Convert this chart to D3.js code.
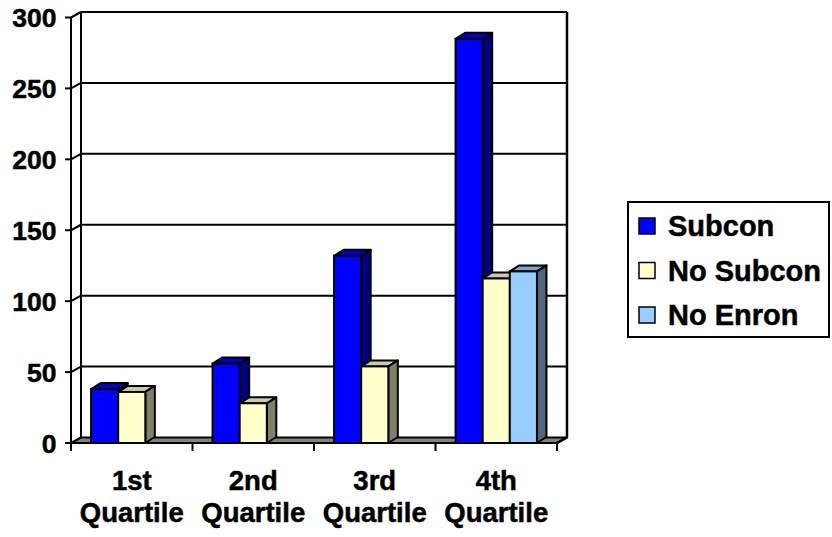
<!DOCTYPE html>
<html>
<head>
<meta charset="utf-8">
<script src="https://cdn.jsdelivr.net/npm/d3@7/dist/d3.min.js"></script>
<style>
  html, body { margin: 0; padding: 0; background: #fff; }
  svg { display: block; }
  text { font-family: "Liberation Sans", Arial, sans-serif; font-weight: bold; fill: #000;
         stroke: #000; stroke-width: 0.5px; }
</style>
</head>
<body>
<svg id="chart" width="832" height="537"></svg>
<script>
// Quartile counts per group
const categories = ["1st Quartile", "2nd Quartile", "3rd Quartile", "4th Quartile"];
const seriesNames = ["Subcon", "No Subcon", "No Enron"];
const subcon   = [38, 56, 132, 285];
const noSubcon = [36, 28, 54, 116];
const noEnron  = [0, 0, 0, 121];
const yTicks = [0, 50, 100, 150, 200, 250, 300];

// front / top / side shades of each series
const palette = [
  { front: "#0000ff", top: "#0000c8", side: "#000080" },
  { front: "#ffffcc", top: "#cccca3", side: "#808066" },
  { front: "#99ccff", top: "#7aa3cc", side: "#4d6680" }
];

const seriesValues = [subcon, noSubcon, noEnron];

const svg = d3.select("#chart");
const plotLeft = 71, plotRight = 557, plotBottom = 443, plotTop = 17.5;
const wallDX = 10, wallDY = -5.5;   // oblique offset of the back wall
const barDX = 9.5, barDY = -6;      // oblique depth of each column

const y = d3.scaleLinear().domain([0, 300]).range([plotBottom, plotTop]);
const x0 = d3.scaleBand().domain(categories).range([plotLeft, plotRight]).padding(0);
const x1 = d3.scaleBand().domain(seriesNames)
  .range([x0.bandwidth() * 0.165, x0.bandwidth() * 0.835]).padding(0);

const stroke = "#000";

// back wall: gridlines and frame
const back = svg.append("g");
yTicks.slice(1).forEach(t => {
  back.append("line")
    .attr("x1", plotLeft + wallDX).attr("x2", plotRight + wallDX)
    .attr("y1", y(t) + wallDY).attr("y2", y(t) + wallDY)
    .attr("stroke", stroke).attr("stroke-width", 2);
  // slanted segment across the side wall
  back.append("line")
    .attr("x1", plotLeft).attr("x2", plotLeft + wallDX)
    .attr("y1", y(t)).attr("y2", y(t) + wallDY)
    .attr("stroke", stroke).attr("stroke-width", 2);
});
back.append("line")
  .attr("x1", plotLeft + wallDX).attr("x2", plotLeft + wallDX)
  .attr("y1", y(300) + wallDY).attr("y2", y(0) + wallDY)
  .attr("stroke", stroke).attr("stroke-width", 2);
back.append("line")
  .attr("x1", plotRight + wallDX).attr("x2", plotRight + wallDX)
  .attr("y1", y(300) + wallDY).attr("y2", y(0) + wallDY)
  .attr("stroke", stroke).attr("stroke-width", 2.5);

// floor
svg.append("path")
  .attr("d", d3.line()([
    [plotLeft, y(0)], [plotRight, y(0)],
    [plotRight + wallDX, y(0) + wallDY], [plotLeft + wallDX, y(0) + wallDY]
  ]) + "Z")
  .attr("fill", "#808080").attr("stroke", stroke).attr("stroke-width", 2)
  .attr("stroke-linejoin", "round");

// columns
const bars = svg.append("g");
const poly = pts => d3.line()(pts) + "Z";
categories.forEach((cat, ci) => {
  seriesNames.forEach((name, si) => {
    const v = seriesValues[si][ci];
    if (!v) return;
    const xl = x0(cat) + x1(name);
    const xr = xl + x1.bandwidth();
    const yt = y(v), yb = y(0);
    const col = palette[si];
    bars.append("path")
      .attr("d", poly([[xl, yt], [xr, yt], [xr + barDX, yt + barDY], [xl + barDX, yt + barDY]]))
      .attr("fill", col.top).attr("stroke", stroke).attr("stroke-width", 2).attr("stroke-linejoin", "round");
    bars.append("path")
      .attr("d", poly([[xr, yt], [xr + barDX, yt + barDY], [xr + barDX, yb + barDY], [xr, yb]]))
      .attr("fill", col.side).attr("stroke", stroke).attr("stroke-width", 2).attr("stroke-linejoin", "round");
    bars.append("rect")
      .attr("x", xl).attr("y", yt).attr("width", xr - xl).attr("height", yb - yt)
      .attr("fill", col.front).attr("stroke", stroke).attr("stroke-width", 2);
  });
});

// value axis
const yAxis = svg.append("g");
yAxis.append("line")
  .attr("x1", plotLeft).attr("x2", plotLeft).attr("y1", y(300)).attr("y2", y(0))
  .attr("stroke", stroke).attr("stroke-width", 2);
yTicks.forEach(t => {
  yAxis.append("line")
    .attr("x1", plotLeft - 6).attr("x2", plotLeft).attr("y1", y(t)).attr("y2", y(t))
    .attr("stroke", stroke).attr("stroke-width", 2);
  yAxis.append("text")
    .attr("x", 56.5).attr("y", y(t)).attr("dy", "0.36em")
    .attr("text-anchor", "end").attr("font-size", 26.5)
    .text(t);
});

// category axis
const xAxis = svg.append("g");
xAxis.append("line")
  .attr("x1", plotLeft).attr("x2", plotRight).attr("y1", y(0)).attr("y2", y(0))
  .attr("stroke", stroke).attr("stroke-width", 2);
xAxis.append("line")
  .attr("x1", plotRight).attr("x2", plotRight + wallDX).attr("y1", y(0)).attr("y2", y(0) + wallDY)
  .attr("stroke", stroke).attr("stroke-width", 2);
categories.concat([null]).forEach(cat => {
  const xt = cat === null ? plotRight : x0(cat);
  xAxis.append("line")
    .attr("x1", xt).attr("x2", xt).attr("y1", y(0)).attr("y2", y(0) + 8)
    .attr("stroke", stroke).attr("stroke-width", 2);
});
categories.forEach(cat => {
  const cx = x0(cat) + x0.bandwidth() / 2;
  const words = cat.split(" ");
  const t = xAxis.append("text").attr("text-anchor", "middle").attr("font-size", 27.5);
  t.append("tspan").attr("x", cx).attr("y", 490).text(words[0]);
  t.append("tspan").attr("x", cx).attr("y", 522).text(words[1]);
});

// legend
const legend = svg.append("g");
legend.append("rect")
  .attr("x", 628).attr("y", 202).attr("width", 201).attr("height", 135)
  .attr("fill", "#fff").attr("stroke", stroke).attr("stroke-width", 2);
seriesNames.forEach((name, i) => {
  const cy = 226 + i * 44.5;
  legend.append("rect")
    .attr("x", 639).attr("y", cy - 8).attr("width", 16).attr("height", 16)
    .attr("fill", palette[i].front).attr("stroke", stroke).attr("stroke-width", 1.5);
  legend.append("text")
    .attr("x", 668).attr("y", cy).attr("dy", "0.36em")
    .attr("font-size", 29).text(name);
});
</script>
</body>
</html>
